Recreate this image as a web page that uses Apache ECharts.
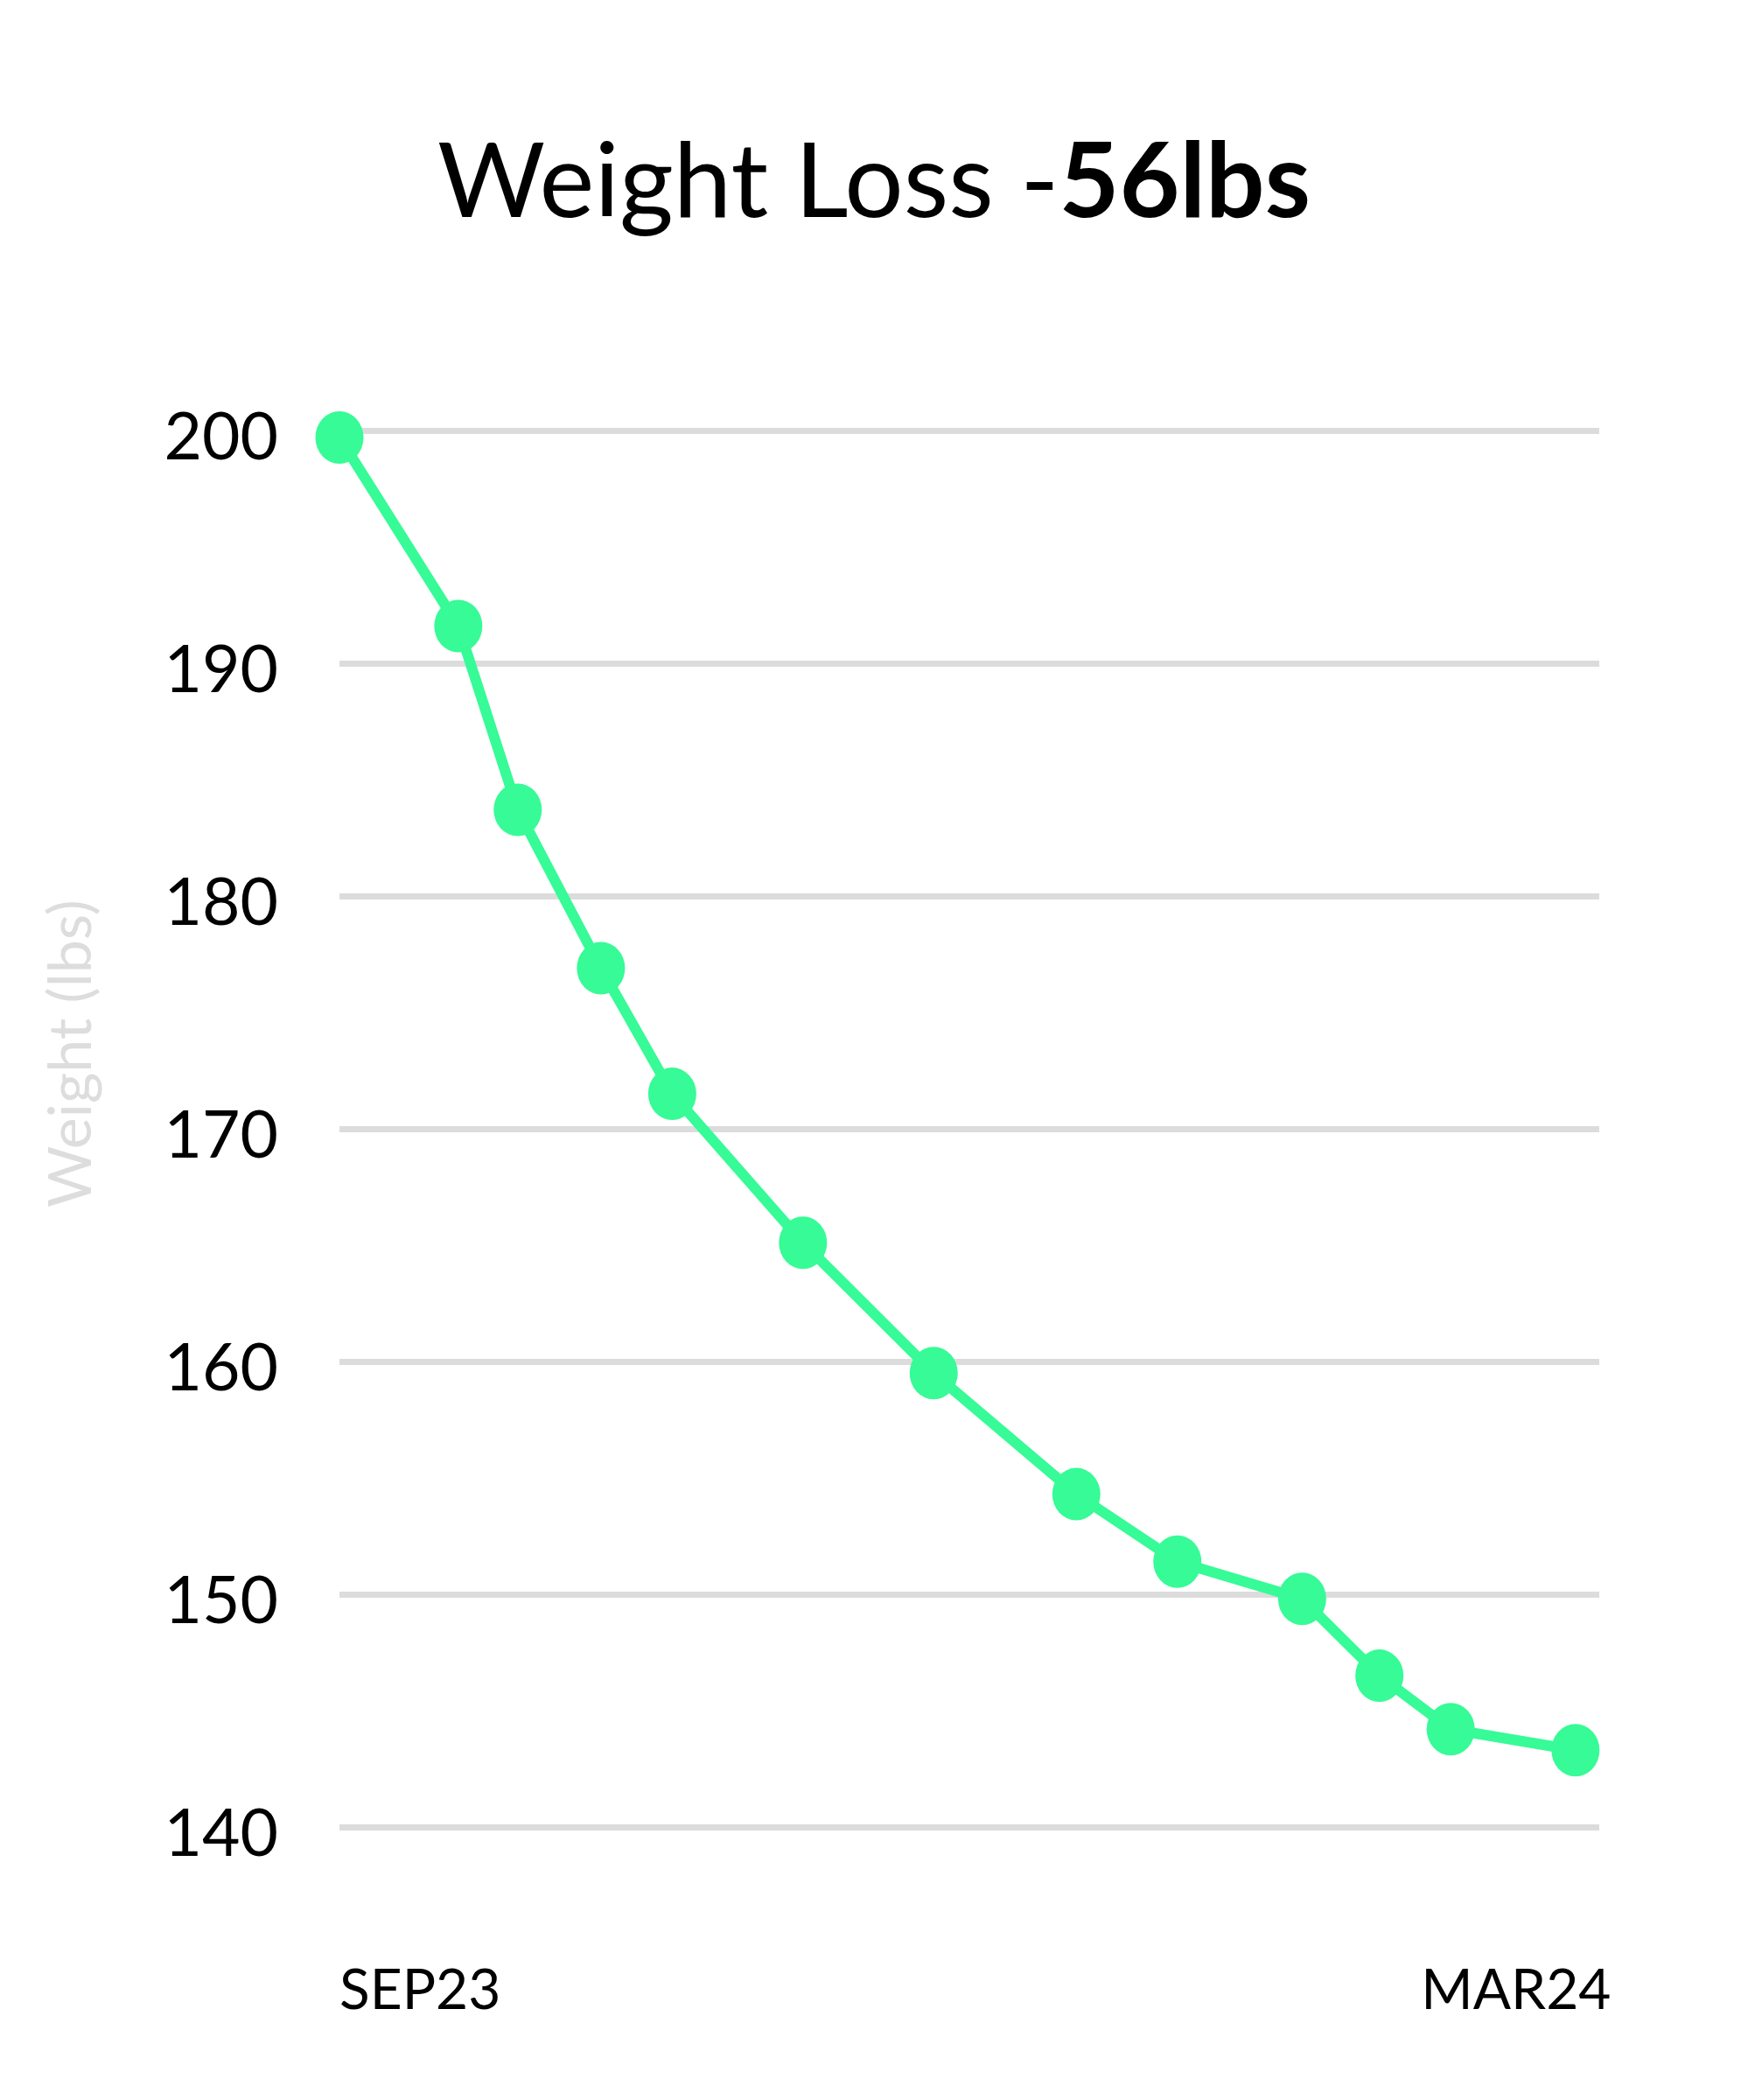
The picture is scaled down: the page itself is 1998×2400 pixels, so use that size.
<!DOCTYPE html>
<html>
<head>
<meta charset="utf-8">
<script src="https://cdn.jsdelivr.net/npm/echarts@6/dist/echarts.min.js"></script>
<style>
  html, body { margin: 0; padding: 0; background: #ffffff; }
  #chart { width: 1998px; height: 2400px; }
</style>
</head>
<body>
<div id="chart"></div>
<script>
// Days since 1 Sep 2023
const dayOffsets = [0, 20, 30, 44, 56, 78, 100, 124, 141, 162, 175, 187, 208];
const weights = [199.7, 191.6, 183.7, 176.9, 171.5, 165.1, 159.5, 154.3, 151.4, 149.8, 146.5, 144.2, 143.3];
const xTickLabels = ['SEP23', 'MAR24'];
const xTickDays = [0, 198];
const xRange = [0, 212];
const yRange = [140, 200];
const titleRegular = 'Weight Loss -';
const titleBold = '56lbs';
const yAxisName = 'Weight (lbs)';

const FONT = 'Lato, "Open Sans", sans-serif';
const GREEN = '#36fb96';

const chart = echarts.init(document.getElementById('chart'), null, { renderer: 'canvas' });
chart.setOption({
  backgroundColor: '#ffffff',
  animation: false,
  title: {
    text: '{a|' + titleRegular + '}{b|' + titleBold + '}',
    left: 'center',
    top: 150,
    padding: 0,
    textStyle: {
      rich: {
        a: { fontFamily: FONT, fontSize: 119, fontWeight: 'normal', color: '#000000' },
        b: { fontFamily: FONT, fontSize: 119, fontWeight: 'bold', color: '#000000' }
      }
    }
  },
  grid: { left: 388, right: 170, top: 492, bottom: 312, containLabel: false },
  xAxis: {
    type: 'value',
    min: xRange[0],
    max: xRange[1],
    axisLine: { show: false },
    axisTick: { show: false },
    splitLine: { show: false },
    axisLabel: {
      show: true,
      customValues: xTickDays,
      margin: 155,
      fontFamily: FONT,
      fontSize: 64,
      color: '#000000',
      alignMinLabel: 'left',
      formatter: function (v) {
        const i = xTickDays.indexOf(v);
        return i >= 0 ? xTickLabels[i] : '';
      }
    }
  },
  yAxis: {
    type: 'value',
    min: yRange[0],
    max: yRange[1],
    interval: 10,
    name: yAxisName,
    nameLocation: 'middle',
    nameGap: 272,
    nameRotate: 90,
    nameTextStyle: {
      fontFamily: FONT,
      fontSize: 68,
      color: '#dddddd',
      padding: [0, 0, 0, 172]
    },
    axisLine: { show: false },
    axisTick: { show: false },
    axisLabel: {
      margin: 70,
      fontFamily: FONT,
      fontSize: 75,
      color: '#000000',
      verticalAlign: 'top',
      lineHeight: 18
    },
    splitLine: { show: true, lineStyle: { color: '#dcdcdc', width: 7 } }
  },
  series: [{
    type: 'line',
    data: dayOffsets.map((d, i) => [d, weights[i]]),
    symbol: 'circle',
    symbolSize: [55, 60],
    showAllSymbol: true,
    clip: false,
    lineStyle: { color: GREEN, width: 12 },
    itemStyle: { color: GREEN, borderWidth: 0 },
    emphasis: { disabled: true }
  }]
});
</script>
</body>
</html>
